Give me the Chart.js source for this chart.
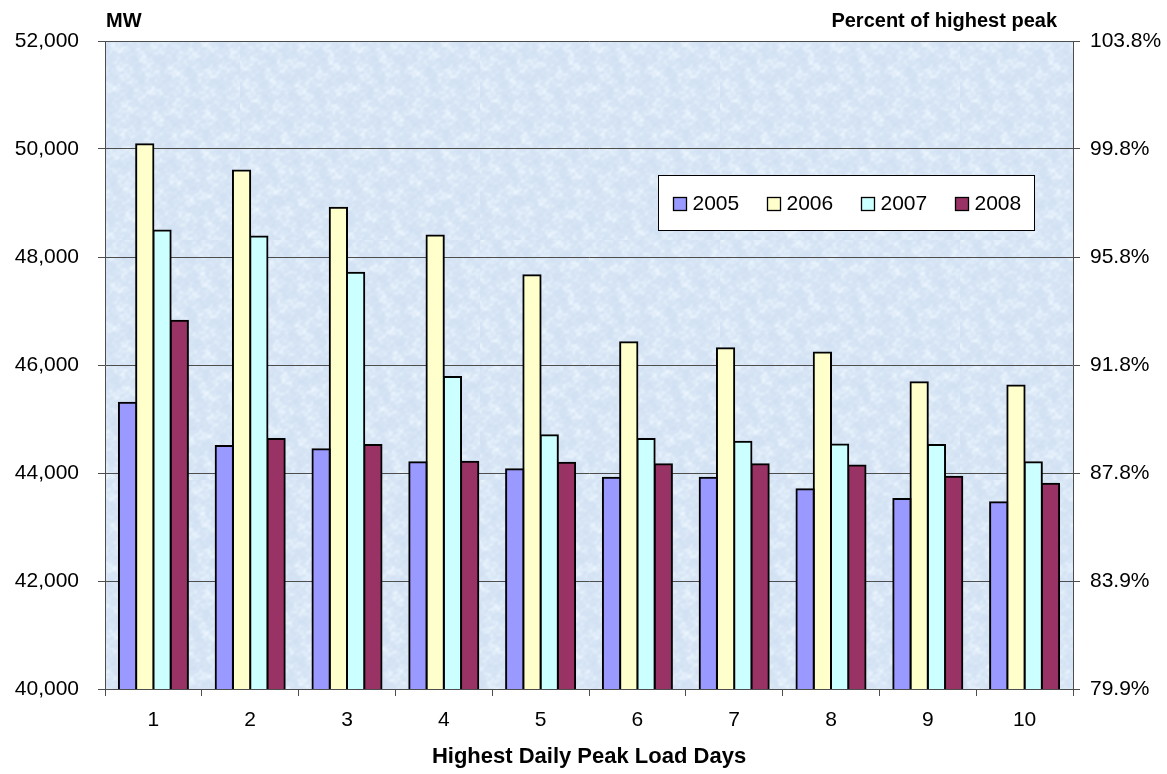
<!DOCTYPE html>
<html>
<head>
<meta charset="utf-8">
<script src="https://cdn.jsdelivr.net/npm/chart.js@4/dist/chart.umd.min.js"></script>
<style>
  html, body { margin: 0; padding: 0; background: #ffffff; }
  #wrap { width: 1167px; height: 774px; }
</style>
</head>
<body>
<div id="wrap"><canvas id="peakChart" width="1167" height="774"></canvas></div>
<script>
// Ten highest daily peak loads (MW) for each year, ranked
const days = ['1', '2', '3', '4', '5', '6', '7', '8', '9', '10'];
const years = ['2005', '2006', '2007', '2008'];
const load2005 = [45300, 44500, 44440, 44200, 44070, 43910, 43910, 43700, 43520, 43460];
const load2006 = [50090, 49600, 48910, 48400, 47660, 46420, 46310, 46230, 45680, 45620];
const load2007 = [48490, 48380, 47710, 45780, 44700, 44630, 44580, 44530, 44520, 44200];
const load2008 = [46820, 44630, 44520, 44210, 44190, 44160, 44160, 44140, 43930, 43800];
const yearColors = ['#9999ff', '#ffffcc', '#ccffff', '#993366'];

// Secondary axis labels: percent of the highest peak at each MW gridline
const pctLabels = ['79.9%', '83.9%', '87.8%', '91.8%', '95.8%', '99.8%', '103.8%'];

const FONT = "'Liberation Sans', Arial, Helvetica, sans-serif";
Chart.defaults.font.family = FONT;
Chart.defaults.color = '#000000';

const seriesValues = [load2005, load2006, load2007, load2008];

// Fine mottled light-blue tile for the plot background
function makeMarbleTile() {
  const size = 240;
  const tile = document.createElement('canvas');
  tile.width = size; tile.height = size;
  const tctx = tile.getContext('2d');
  const img = tctx.createImageData(size, size);
  const k = 2 * Math.PI / size;
  const waves = [
    [7, 3, 0.22, 1.9], [-5, 9, 0.2, 1.6], [13, -11, 0.18, 1.4],
    [19, 17, 0.16, 1.2], [23, -29, 0.13, 1.0], [31, 37, 0.11, 0.8]
  ];
  for (let y = 0; y < size; y++) {
    for (let x = 0; x < size; x++) {
      let v = 0;
      for (const [fx, fy, amp, warp] of waves) {
        const w = warp * Math.sin(k * (fy * x - fx * y) * 0.5 + fx);
        v += amp * Math.sin(k * (fx * x + fy * y) + w);
      }
      const lift = v > 0 ? v * 22 : v * 8;
      const i = (y * size + x) * 4;
      img.data[i] = Math.max(0, Math.min(255, 215 + lift));
      img.data[i + 1] = Math.max(0, Math.min(255, 229 + lift * 0.8));
      img.data[i + 2] = Math.max(0, Math.min(255, 245 + lift * 0.4));
      img.data[i + 3] = 255;
    }
  }
  tctx.putImageData(img, 0, 0);
  return tile;
}

const plotBackground = {
  id: 'plotBackground',
  beforeDraw(chart) {
    const { ctx, chartArea: a } = chart;
    if (!this._pattern) this._pattern = ctx.createPattern(makeMarbleTile(), 'repeat');
    ctx.save();
    ctx.fillStyle = this._pattern;
    ctx.fillRect(a.left, a.top, a.right - a.left, a.bottom - a.top);
    ctx.restore();
  }
};

// Unit captions above both value axes
const axisCaptions = {
  id: 'axisCaptions',
  afterDraw(chart) {
    const { ctx, chartArea: a } = chart;
    ctx.save();
    ctx.fillStyle = '#000';
    ctx.font = 'bold 20px ' + FONT;
    ctx.textBaseline = 'middle';
    ctx.textAlign = 'left';
    ctx.fillText('MW', a.left + 1, 21);
    ctx.textAlign = 'right';
    ctx.fillText('Percent of highest peak', a.right - 16, 21);
    ctx.restore();
  }
};

// Boxed legend sitting inside the plot area
const boxLegend = {
  id: 'boxLegend',
  afterDraw(chart) {
    const { ctx } = chart;
    const bx = 658.5, by = 175.5, bw = 376, bh = 55;
    ctx.save();
    ctx.fillStyle = '#ffffff';
    ctx.fillRect(bx, by, bw, bh);
    ctx.strokeStyle = '#000';
    ctx.lineWidth = 1;
    ctx.strokeRect(bx, by, bw, bh);
    ctx.font = '21px ' + FONT;
    ctx.textBaseline = 'middle';
    ctx.textAlign = 'left';
    chart.data.datasets.forEach((ds, i) => {
      const sx = 673.5 + i * 94;
      ctx.fillStyle = ds.backgroundColor;
      ctx.fillRect(sx, 197.5, 13, 13);
      ctx.strokeStyle = '#000';
      ctx.lineWidth = 1.3;
      ctx.strokeRect(sx, 197.5, 13, 13);
      ctx.fillStyle = '#000';
      ctx.fillText(ds.label, sx + 19, 204.5);
    });
    ctx.restore();
  }
};

new Chart(document.getElementById('peakChart'), {
  type: 'bar',
  data: {
    labels: days,
    datasets: years.map((y, i) => ({
      label: y,
      data: seriesValues[i],
      backgroundColor: yearColors[i],
      borderColor: '#000000',
      borderWidth: 2,
      borderSkipped: 'start',
      inflateAmount: 1,
      categoryPercentage: 0.713,
      barPercentage: 1.0,
      yAxisID: 'y'
    }))
  },
  options: {
    responsive: false,
    animation: false,
    devicePixelRatio: 1,
    layout: { padding: { top: 41, left: 0, right: 0, bottom: 0 } },
    plugins: {
      legend: { display: false },
      tooltip: { enabled: false },
      title: { display: false }
    },
    scales: {
      x: {
        grid: { display: true, drawOnChartArea: false, drawTicks: true, tickLength: 7, color: '#4d4d4d', offset: true },
        border: { color: '#4d4d4d', width: 1, z: 1 },
        ticks: { font: { size: 21 }, color: '#000', padding: 12, maxRotation: 0 },
        title: {
          display: true,
          text: 'Highest Daily Peak Load Days',
          font: { size: 22, weight: 'bold' },
          color: '#000',
          padding: { top: 0, bottom: 4 }
        },
        afterFit(scale) { scale.height = 85; }
      },
      y: {
        position: 'left',
        min: 40000,
        max: 52000,
        grid: { color: '#4d4d4d', lineWidth: 1, tickLength: 7 },
        border: { color: '#4d4d4d', width: 1 },
        ticks: {
          stepSize: 2000,
          font: { size: 21 },
          color: '#000',
          padding: 19,
          callback: v => Number(v).toLocaleString('en-US')
        },
        afterFit(scale) { scale.width = 105; }
      },
      y2: {
        position: 'right',
        min: 40000,
        max: 52000,
        grid: { drawOnChartArea: false, color: '#4d4d4d', tickLength: 7 },
        border: { color: '#4d4d4d', width: 1 },
        ticks: {
          stepSize: 2000,
          font: { size: 21 },
          color: '#000',
          padding: 10,
          callback: (v, i) => pctLabels[i]
        },
        afterFit(scale) { scale.width = 94; }
      }
    }
  },
  plugins: [plotBackground, axisCaptions, boxLegend]
});
</script>
</body>
</html>
